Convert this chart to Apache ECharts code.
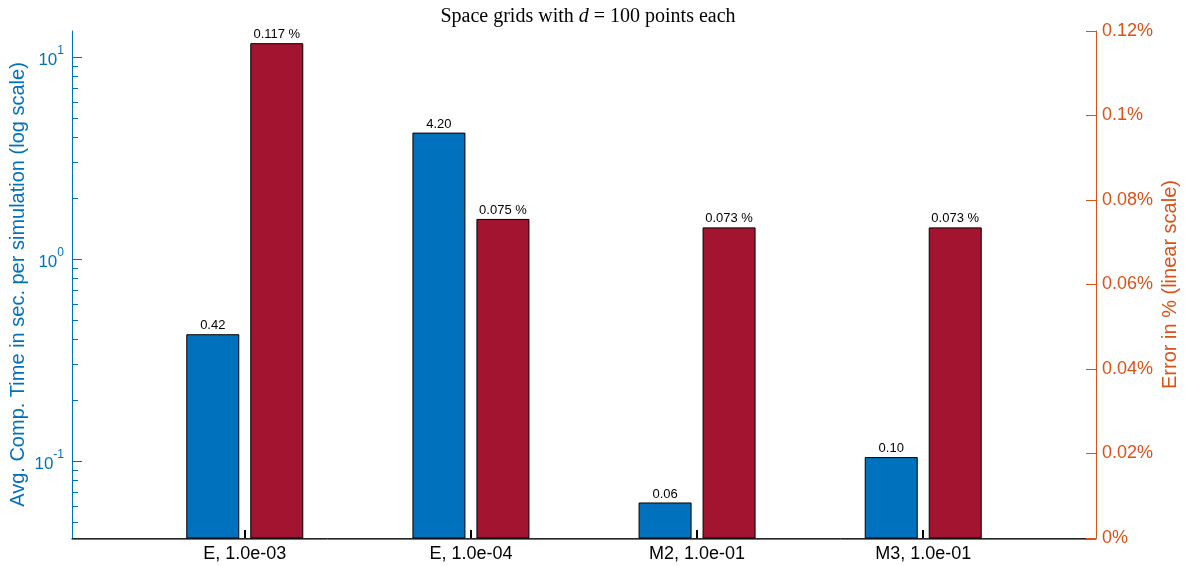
<!DOCTYPE html>
<html>
<head>
<meta charset="utf-8">
<script src="https://cdn.jsdelivr.net/npm/echarts@6/dist/echarts.min.js"></script>
<style>html,body{margin:0;padding:0;background:#fff;}#c{width:1186px;height:566px;}</style>
</head>
<body>
<div id="c"></div>
<script>
const categories = ['E, 1.0e-03', 'E, 1.0e-04', 'M2, 1.0e-01', 'M3, 1.0e-01'];
const timeValues = [0.422, 4.2, 0.062, 0.104];
const errorValues = [0.117, 0.0754, 0.0734, 0.0734];
const timeMajorTicks = [0.1, 1, 10];
const timeMinorTicks = [0.05, 0.06, 0.07, 0.08, 0.09, 0.2, 0.3, 0.4, 0.5, 0.6, 0.7, 0.8, 0.9, 2, 3, 4, 5, 6, 7, 8, 9];
const categoryTicks = [1, 2, 3, 4];

const BLUE = '#0072BD', ORANGE = '#D95319', RED = '#A2142F', DARK = '#262626';
const FONT = "'Liberation Sans', Arial, sans-serif";
const SERIF = "'Liberation Serif', 'DejaVu Serif', serif";
const TIME_MIN = 0.0416, TIME_MAX = 13.45;
const BAR_W = 52, BAR_OFF = 32;

function barRenderer(base, offset, color, fmt) {
  return function (params, api) {
    const x = api.value(0), v = api.value(1);
    const top = api.coord([x, v]);
    const bot = api.coord([x, base]);
    return {
      type: 'rect',
      shape: { x: top[0] + offset - BAR_W / 2, y: top[1], width: BAR_W, height: bot[1] - top[1] },
      style: { fill: color, stroke: '#000', lineWidth: 1 },
      textContent: {
        style: { text: fmt(v), fontFamily: FONT, fontSize: 13, fill: '#000' }
      },
      textConfig: { position: 'top', distance: 2 }
    };
  };
}

const chart = echarts.init(document.getElementById('c'));
const xBase = {
  type: 'value', min: 0.236, max: 4.764,
  splitLine: { show: false }
};
chart.setOption({
  animation: false,
  title: {
    text: '{n|Space grids with }{i|d}{n| = 100 points each}',
    left: 583, textAlign: 'center', top: 2,
    textStyle: {
      fontWeight: 'normal',
      rich: {
        n: { fontFamily: SERIF, fontSize: 20, fontWeight: 'normal', color: '#000' },
        i: { fontFamily: SERIF, fontSize: 20, fontWeight: 'normal', fontStyle: 'italic', color: '#000' }
      }
    }
  },
  grid: { left: 72, right: 90, top: 31, bottom: 28, containLabel: false, outerBoundsMode: 'none' },
  xAxis: [
    Object.assign({}, xBase, {
      position: 'bottom',
      axisLine: { show: true, lineStyle: { color: DARK, width: 1 } },
      axisTick: { show: true, inside: true, length: 8, lineStyle: { color: '#000', width: 2 }, customValues: categoryTicks },
      axisLabel: {
        show: true, customValues: categoryTicks, margin: 7,
        fontFamily: FONT, fontSize: 18, color: '#000',
        formatter: v => categories[Math.round(v) - 1]
      }
    }),
    Object.assign({}, xBase, {
      position: 'bottom', offset: 1,
      axisLine: { show: true, lineStyle: { color: ORANGE, width: 1 } },
      axisTick: { show: false }, axisLabel: { show: false }
    })
  ],
  yAxis: [
    {
      type: 'log', min: TIME_MIN, max: TIME_MAX, position: 'left',
      name: 'Avg. Comp. Time in sec. per simulation (log scale)',
      nameLocation: 'middle', nameRotate: 90, nameGap: 44, nameMoveOverlap: false,
      nameTextStyle: { fontFamily: FONT, fontSize: 20, color: BLUE },
      axisLine: { show: true, lineStyle: { color: BLUE, width: 1 } },
      axisTick: { show: true, inside: true, length: 10, customValues: timeMajorTicks, lineStyle: { color: BLUE, width: 1 } },
      splitLine: { show: false },
      axisLabel: {
        customValues: timeMajorTicks, margin: 8,
        formatter: v => '{b|10}{s|' + Math.round(Math.log10(v)) + '}',
        rich: {
          b: { fontFamily: FONT, fontSize: 17, color: BLUE, verticalAlign: 'bottom', lineHeight: 24 },
          s: { fontFamily: FONT, fontSize: 12, color: BLUE, verticalAlign: 'top', lineHeight: 24, padding: [0, 0, 8, 0] }
        }
      }
    },
    {
      type: 'value', min: 0, max: 0.12, interval: 0.02, position: 'right',
      name: 'Error in % (linear scale)',
      nameLocation: 'middle', nameRotate: 90, nameGap: 64, nameMoveOverlap: false,
      nameTextStyle: { fontFamily: FONT, fontSize: 20, color: ORANGE },
      axisLine: { show: true, lineStyle: { color: ORANGE, width: 1 } },
      axisTick: { show: true, inside: true, length: 10, lineStyle: { color: ORANGE, width: 1 } },
      splitLine: { show: false },
      axisLabel: {
        margin: 6, fontFamily: FONT, fontSize: 18, color: ORANGE,
        formatter: v => (+v.toFixed(4)) + '%'
      }
    },
    {
      type: 'log', min: TIME_MIN, max: TIME_MAX, position: 'left',
      axisLine: { show: false },
      axisTick: { show: true, inside: true, length: 6, customValues: timeMinorTicks, lineStyle: { color: BLUE, width: 1 } },
      axisLabel: { show: false },
      splitLine: { show: false }
    }
  ],
  series: [
    {
      type: 'custom', xAxisIndex: 0, yAxisIndex: 0,
      data: timeValues.map((v, i) => [i + 1, v]),
      renderItem: barRenderer(TIME_MIN, -BAR_OFF, BLUE, v => v.toFixed(2)),
      z: 2
    },
    {
      type: 'custom', xAxisIndex: 0, yAxisIndex: 1,
      data: errorValues.map((v, i) => [i + 1, v]),
      renderItem: barRenderer(0, BAR_OFF, RED, v => v.toFixed(3) + ' %'),
      z: 2
    }
  ]
});
</script>
</body>
</html>
